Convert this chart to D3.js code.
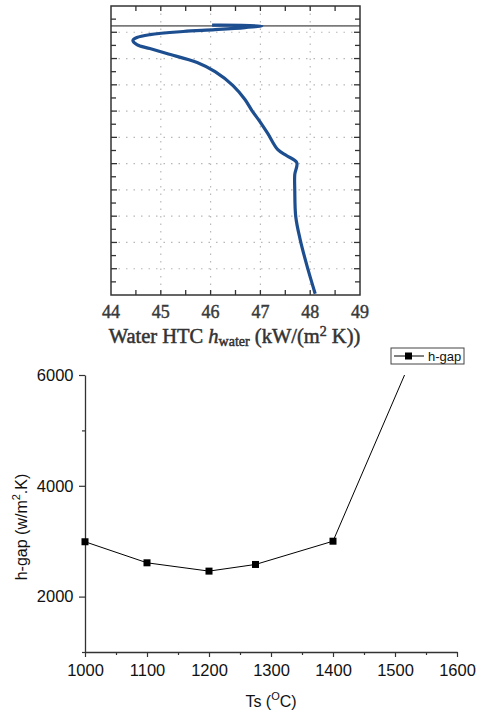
<!DOCTYPE html>
<html><head><meta charset="utf-8">
<script src="https://cdn.jsdelivr.net/npm/d3@7"></script>
<style>body{margin:0;background:#fff}svg{display:block}</style>
</head><body>
<svg id="c" width="477" height="715"></svg>
<script>
// ---------- Top chart data (water HTC profile) ----------
const htcX = [46.03,47.03,46.69,46.09,45.45,44.78,44.52,44.44,44.52,44.78,45.12,45.73,46.09,46.45,46.69,46.83,46.99,47.15,47.35,47.53,47.73,47.69,47.69,47.71,47.80,47.94,48.10];
const htcPos = [0.73,0.75,0.82,0.90,0.97,1.09,1.20,1.31,1.47,1.62,1.81,2.15,2.50,3.03,3.56,3.98,4.40,4.86,5.47,5.70,5.96,6.42,6.99,8.02,8.90,9.92,10.95];
const htcTicks = [44,45,46,47,48,49];
const boundaryPos = [0.76];

// ---------- Bottom chart data (h-gap vs Ts) ----------
const ts = [1000,1100,1200,1275,1400,1600];
const hgap = [2990,2610,2460,2580,3000,8200];
const tsTicks = [1000,1100,1200,1300,1400,1500,1600];
const hgapTicks = [2000,4000,6000];

const svg = d3.select("#c");

// ===== Top chart =====
const tx = d3.scaleLinear().domain([44,49]).range([111,360]);
const ty = d3.scaleLinear().domain([0,11]).range([6,295]);
const topG = svg.append("g");
const frameCol = "#333";

// dotted grid
topG.append("g").selectAll("line").data([45,46,47,48]).join("line")
  .attr("x1",d=>tx(d)).attr("x2",d=>tx(d)).attr("y1",ty(0)).attr("y2",ty(11))
  .attr("stroke","#b8b8b8").attr("stroke-width",1.2).attr("stroke-dasharray","1.5,6");
topG.append("g").selectAll("line").data(d3.range(1,11)).join("line")
  .attr("y1",d=>ty(d)).attr("y2",d=>ty(d)).attr("x1",tx(44)).attr("x2",tx(49))
  .attr("stroke","#b8b8b8").attr("stroke-width",1.2).attr("stroke-dasharray","1.5,6");

// inner ticks
const xt = d3.range(44.5,49,0.5);
const yt = d3.range(0.5,11,0.5);
const tk = topG.append("g").attr("stroke",frameCol).attr("stroke-width",1.3);
xt.forEach(v=>{
  tk.append("line").attr("x1",tx(v)).attr("x2",tx(v)).attr("y1",ty(11)).attr("y2",ty(11)-5);
  tk.append("line").attr("x1",tx(v)).attr("x2",tx(v)).attr("y1",ty(0)).attr("y2",ty(0)+5);
});
yt.forEach(v=>{
  const len = Number.isInteger(v)?6:5;
  tk.append("line").attr("y1",ty(v)).attr("y2",ty(v)).attr("x1",tx(44)).attr("x2",tx(44)+len);
  tk.append("line").attr("y1",ty(v)).attr("y2",ty(v)).attr("x1",tx(49)).attr("x2",tx(49)-len);
});

// boundary line
topG.selectAll(".bnd").data(boundaryPos).join("line")
  .attr("x1",tx(44)).attr("x2",tx(49)).attr("y1",d=>ty(d)).attr("y2",d=>ty(d))
  .attr("stroke","#7a7a7a").attr("stroke-width",1.8);

// frame
topG.append("rect").attr("x",tx(44)).attr("y",ty(0)).attr("width",tx(49)-tx(44)).attr("height",ty(11)-ty(0))
  .attr("fill","none").attr("stroke",frameCol).attr("stroke-width",1.5);

// curve
const pts = htcX.map((v,i)=>[v,htcPos[i]]);
topG.append("path").datum(pts)
  .attr("d",d3.line().x(d=>tx(d[0])).y(d=>ty(d[1])).curve(d3.curveCatmullRom.alpha(0.5)))
  .attr("fill","none").attr("stroke","#1d4e8f").attr("stroke-width",3.2).attr("stroke-linejoin","round");

// tick labels
topG.append("g").selectAll("text").data(htcTicks).join("text")
  .attr("x",d=>tx(d)).attr("y",318).attr("text-anchor","middle")
  .attr("font-family","Liberation Serif, serif").attr("font-size",18).attr("fill","#3a3a3a")
  .attr("stroke","#3a3a3a").attr("stroke-width",0.45)
  .text(d=>d);
const tt = topG.append("text").attr("x",234.5).attr("y",343).attr("text-anchor","middle")
  .attr("font-family","Liberation Serif, serif").attr("font-size",20.5).attr("fill","#333")
  .attr("stroke","#333").attr("stroke-width",0.5);
tt.append("tspan").text("Water HTC ");
tt.append("tspan").attr("font-style","italic").text("h");
tt.append("tspan").attr("font-size",14).attr("dy",3).text("water");
tt.append("tspan").attr("dy",-3).text(" (kW/(m");
tt.append("tspan").attr("font-size",14).attr("dy",-7).text("2");
tt.append("tspan").attr("dy",7).text(" K))");

// ===== Bottom chart =====
const bx = d3.scaleLinear().domain([1000,1600]).range([85,457]);
const by = d3.scaleLinear().domain([1000,6000]).range([652,375]);
const bot = svg.append("g");
const axCol = "#333";
const font = "Liberation Sans, Arial, sans-serif";

svg.append("defs").append("clipPath").attr("id","clip").append("rect")
  .attr("x",bx(1000)-10).attr("y",by(6000)).attr("width",bx(1600)-bx(1000)+20).attr("height",by(1000)-by(6000)+10);

const xAxis = bot.append("g").attr("transform",`translate(0,${by(1000)})`)
  .call(d3.axisBottom(bx).tickValues(tsTicks).tickSize(5).tickSizeOuter(0).tickFormat(d3.format("d")));
bot.append("g").attr("transform",`translate(0,${by(1000)})`)
  .call(d3.axisBottom(bx).tickValues(d3.range(1050,1600,100)).tickSize(3).tickFormat("").tickSizeOuter(0))
  .select(".domain").remove();
const yAxis = bot.append("g").attr("transform",`translate(${bx(1000)},0)`)
  .call(d3.axisLeft(by).tickValues(hgapTicks).tickSize(6).tickSizeOuter(0).tickFormat(d3.format("d")));
bot.append("g").attr("transform",`translate(${bx(1000)},0)`)
  .call(d3.axisLeft(by).tickValues([1000,3000,5000]).tickSize(3).tickFormat("").tickSizeOuter(0))
  .select(".domain").remove();
bot.selectAll(".domain").attr("stroke",axCol).attr("stroke-width",1.3);
bot.selectAll(".tick line").attr("stroke",axCol).attr("stroke-width",1.2);
bot.selectAll(".tick text").attr("font-family",font).attr("font-size",16.5).attr("fill","#111");
xAxis.selectAll(".tick text").attr("dy","0.95em");
yAxis.selectAll(".tick text").attr("dx","-0.15em");

// series
const ser = bot.append("g").attr("clip-path","url(#clip)");
const sp = ts.map((v,i)=>[v,hgap[i]]);
ser.append("path").datum(sp).attr("d",d3.line().x(d=>bx(d[0])).y(d=>by(d[1])))
  .attr("fill","none").attr("stroke","#000").attr("stroke-width",1);
ser.selectAll("rect").data(sp).join("rect")
  .attr("x",d=>bx(d[0])-3.5).attr("y",d=>by(d[1])-3.5).attr("width",7).attr("height",7).attr("fill","#000");

// axis titles
const xt2 = bot.append("text").attr("x",271).attr("y",707).attr("text-anchor","middle")
  .attr("font-family",font).attr("font-size",16).attr("fill","#111");
xt2.append("tspan").text("Ts (");
xt2.append("tspan").attr("font-size",11).attr("dy",-7).text("O");
xt2.append("tspan").attr("dy",7).text("C)");
const yt2 = bot.append("text").attr("transform","translate(27,527) rotate(-90)").attr("text-anchor","middle")
  .attr("font-family",font).attr("font-size",16).attr("fill","#111");
yt2.append("tspan").text("h-gap (w/m");
yt2.append("tspan").attr("font-size",11).attr("dy",-7).text("2");
yt2.append("tspan").attr("dy",7).text(".K)");

// legend
const lg = bot.append("g");
lg.append("rect").attr("x",391).attr("y",348).attr("width",73).attr("height",16)
  .attr("fill","#fff").attr("stroke","#444").attr("stroke-width",1);
lg.append("line").attr("x1",394).attr("x2",424).attr("y1",356).attr("y2",356).attr("stroke","#000").attr("stroke-width",1);
lg.append("rect").attr("x",405).attr("y",352.5).attr("width",7).attr("height",7).attr("fill","#000");
lg.append("text").attr("x",428).attr("y",361).attr("font-family",font).attr("font-size",13).attr("fill","#111").text("h-gap");
</script>
</body></html>
